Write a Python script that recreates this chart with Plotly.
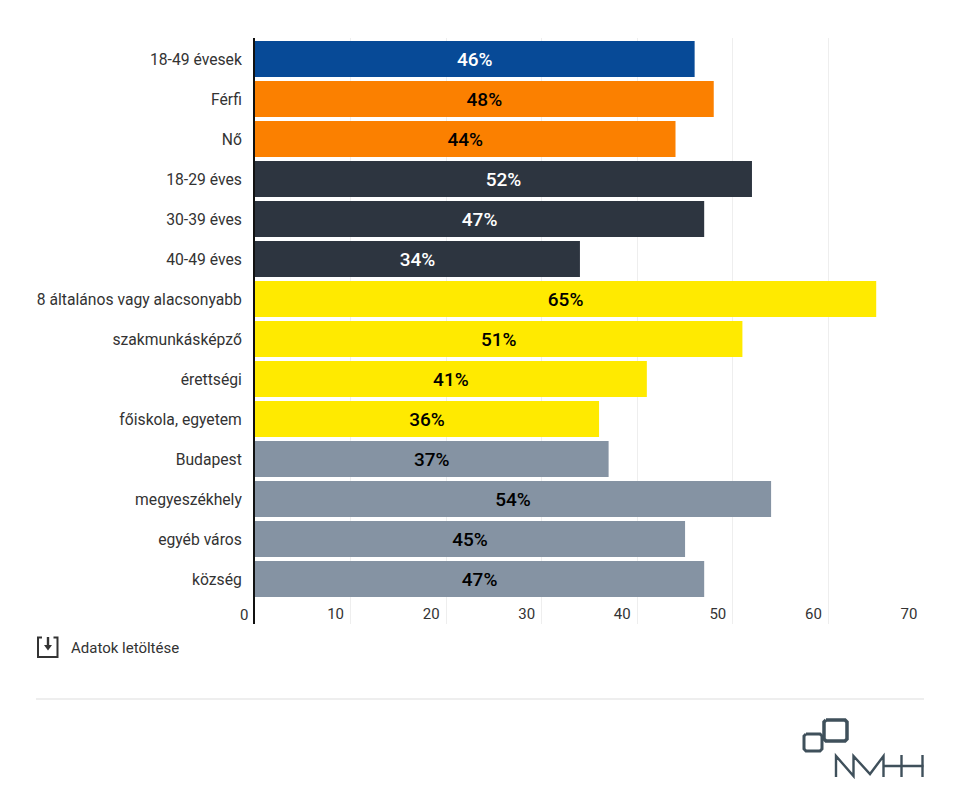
import plotly.graph_objects as go

categories = ["18-49 évesek", "Férfi", "Nő", "18-29 éves", "30-39 éves", "40-49 éves",
              "8 általános vagy alacsonyabb", "szakmunkásképző", "érettségi",
              "főiskola, egyetem", "Budapest", "megyeszékhely", "egyéb város", "község"]
values = [46, 48, 44, 52, 47, 34, 65, 51, 41, 36, 37, 54, 45, 47]
bar_colors = ["#074a97", "#fb8000", "#fb8000", "#2d3540", "#2d3540", "#2d3540",
              "#ffea00", "#ffea00", "#ffea00", "#ffea00",
              "#8593a3", "#8593a3", "#8593a3", "#8593a3"]
label_colors = ["#ffffff", "#000000", "#000000", "#ffffff", "#ffffff", "#ffffff",
                "#000000", "#000000", "#000000", "#000000",
                "#000000", "#000000", "#000000", "#000000"]
labels = [f"{v}%" for v in values]
x_ticks = [0, 10, 20, 30, 40, 50, 60, 70]

# The page adds a body margin, so the figure is drawn smaller and positions are offset.
OFF_X, OFF_Y = 7, 8
W, H = 940, 780
L, R, T, B = 254, 923, 38, 624


def px(x):
    return (x - L) / (R - L)


def py(y):
    return (B - y) / (B - T)


def path(points, close=False):
    d = "M " + " L ".join(f"{px(x):.5f},{py(y):.5f}" for x, y in points)
    return d + (" Z" if close else "")


fig = go.Figure(go.Bar(
    x=values, y=list(range(len(categories))), orientation="h",
    marker=dict(color=bar_colors, line_width=0),
    text=labels, textposition="inside", insidetextanchor="middle", textangle=0,
    textfont=dict(family="Roboto, sans-serif", size=19, weight=500, color=label_colors),
    hoverinfo="skip", cliponaxis=False,
))

shapes = []
LOGO = "#3f505b"
ICON = "#333333"


def line(points, color, width):
    shapes.append(dict(type="path", xref="paper", yref="paper", path=path(points),
                       line=dict(color=color, width=width), fillcolor="rgba(0,0,0,0)"))


# rule above the logo
line([(35, 699), (923, 699)], "#dddddd", 1)

# download icon
line([(41, 637.5), (37, 637.5), (37, 657), (56.5, 657), (56.5, 637.5), (52.5, 637.5)], ICON, 2)
line([(47, 637), (47, 648)], ICON, 2.4)
shapes.append(dict(type="path", xref="paper", yref="paper",
                   path=path([(43, 645), (51, 645), (47, 650.5)], True),
                   fillcolor=ICON, line=dict(color=ICON, width=0)))

# logo: two squares
line([(825, 720), (844, 720), (846, 722), (846, 739), (844, 741), (825, 741), (823, 739), (823, 722), (825, 720)],
     LOGO, 3.5)
line([(805, 734), (819, 734), (821, 736), (821, 749), (819, 751), (805, 751), (803, 749), (803, 736), (805, 734)],
     LOGO, 3)

# logo: NMHH lettering
line([(835, 777), (835, 756), (852.5, 776), (852.5, 756), (869, 774), (882.5, 756), (882.5, 777)], LOGO, 2.4)
line([(882.5, 766), (922.5, 766)], LOGO, 2.4)
line([(900.5, 755), (900.5, 777)], LOGO, 2.4)
line([(921.5, 755), (921.5, 777)], LOGO, 2.4)

fig.update_layout(
    width=W, height=H,
    margin=dict(l=L - OFF_X, r=W - (R - OFF_X), t=T - OFF_Y, b=H - (B - OFF_Y), pad=0),
    paper_bgcolor="#ffffff", plot_bgcolor="#ffffff",
    bargap=0.1, showlegend=False, shapes=shapes,
    font=dict(family="Roboto, sans-serif", size=15, color="#333333"),
    xaxis=dict(
        range=[0, 70], tickvals=x_ticks, ticktext=[str(t) for t in x_ticks],
        showgrid=True, gridcolor="#eeeeee", gridwidth=1, zeroline=False, showline=False,
        ticks="", ticklabelposition="inside", ticklabelshift=-15,
        ticklabelstandoff=-1, tickfont=dict(size=15, color="#333333"),
    ),
    yaxis=dict(
        range=[14.125, -0.525], tickvals=list(range(len(categories))), ticktext=categories,
        showgrid=False, zeroline=False, showline=True, linecolor="#111111", linewidth=2,
        ticks="", ticklabelstandoff=8, tickfont=dict(size=15.7, color="#333333"),
    ),
    annotations=[
        dict(text="Adatok letöltése", xref="paper", yref="paper", x=px(68), y=py(647.5),
             xanchor="left", yanchor="middle", showarrow=False,
             font=dict(size=15, color="#333333")),
        dict(text=str(x_ticks[0]), xref="x", yref="paper", x=x_ticks[0], y=py(614.5),
             xanchor="right", yanchor="middle", xshift=-5, showarrow=False,
             font=dict(size=15, color="#333333")),
    ],
)

fig.write_html("out.html", config=dict(displayModeBar=False))
